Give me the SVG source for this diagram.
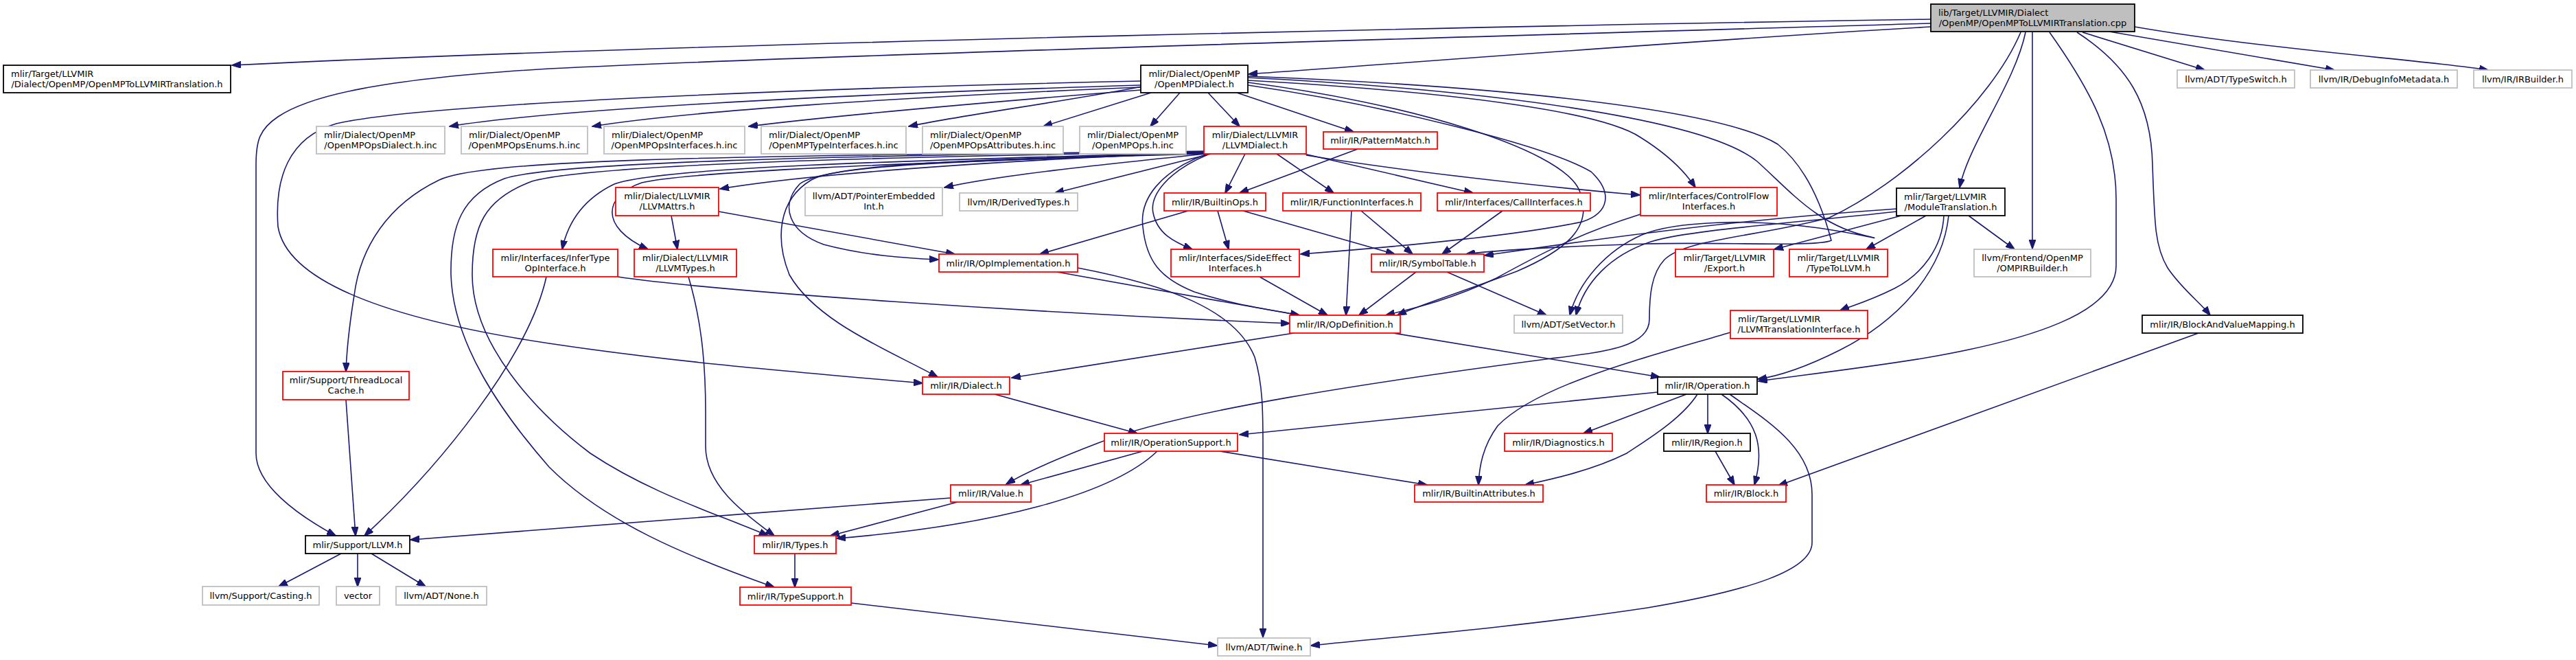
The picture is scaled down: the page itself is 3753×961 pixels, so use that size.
<svg xmlns="http://www.w3.org/2000/svg" width="3753" height="961" viewBox="0 0 3753 961">
<style>
rect{fill:#fff;stroke-width:1.8}
.r{stroke:#ff0000}.g{stroke:#bfbfbf}.k{stroke:#000}.root{fill:#bfbfbf;stroke:#000}
text{font-family:"DejaVu Sans","Liberation Sans",sans-serif;font-size:13px;fill:#000}
.m{text-anchor:middle}
#edges path{fill:none;stroke:#191970;stroke-width:1.6;marker-end:url(#a)}
</style>
<defs>
<marker id="a" viewBox="0 0 14 10" refX="13" refY="5" markerWidth="14" markerHeight="10" markerUnits="userSpaceOnUse" orient="auto"><path d="M0,0 L14,5 L0,10 z" fill="#191970" stroke="#191970" stroke-width="1"/></marker>
</defs>
<rect x="0" y="0" width="3753" height="961" style="fill:#fff;stroke:none"/>
<g id="edges">
<path d="M2813,28 C2300,36 1000,62 338,95"/>
<path d="M2813,34 C2200,52 1200,80 800,100 C550,115 450,140 405,170 C378,188 373,205 373,240 L373,660 C373,705 430,748 489,780"/>
<path d="M2813,39 C2450,60 2100,88 1819,108"/>
<path d="M2951,47 C2936,120 2868,210 2855,273"/>
<path d="M2944,47 C2900,150 2770,268 2665,317 C2560,345 2455,348 2425,378 C2406,398 2403,430 2403,465 C2403,505 2340,512 2260,522 C2000,556 1720,598 1600,645 C1540,668 1490,690 1466,705"/>
<path d="M2961,47 L2961,362"/>
<path d="M2986,47 C3045,130 3083,200 3083,290 L3083,387 C3083,455 2960,495 2800,522 C2700,538 2610,548 2562,555"/>
<path d="M3026,47 C3100,95 3134,150 3136,240 C3139,330 3140,360 3158,390 C3178,420 3205,440 3220,459"/>
<path d="M3034,47 L3212,102"/>
<path d="M3073,46 L3401,102"/>
<path d="M3110,39 C3300,72 3540,88 3625,102"/>
<path d="M1662,124 C1200,138 800,160 655,184"/>
<path d="M1662,127 C1300,142 1000,162 863,184"/>
<path d="M1662,131 C1450,148 1200,170 1091,184"/>
<path d="M1664,126 C1550,148 1400,168 1324,184"/>
<path d="M1677,135 L1520,184"/>
<path d="M1719,135 L1676,184"/>
<path d="M1760,135 L1806,184"/>
<path d="M1802,135 L1972,192"/>
<path d="M1662,118 C1200,128 620,150 490,180 C420,200 400,260 405,330 C420,420 600,470 800,500 C1000,530 1200,545 1344,558"/>
<path d="M1818,117 C2100,133 2330,160 2390,200 C2430,225 2455,250 2470,273"/>
<path d="M1818,124 C2000,150 2250,210 2318,250 C2350,280 2345,310 2305,323 C2200,345 2000,362 1895,370"/>
<path d="M1818,111 C2150,124 2500,155 2590,210 C2640,250 2660,320 2668,350 C2650,360 2500,352 2400,355 C2300,358 2200,362 2136,370"/>
<path d="M1818,120 C2050,150 2270,215 2300,275 C2325,330 2280,365 2210,395 C2130,425 2065,445 2036,459"/>
<path d="M1818,113 C2150,130 2480,170 2560,235 C2610,280 2650,330 2726,345 C2745,350 2705,340 2650,332 C2550,318 2440,322 2392,342 C2340,365 2300,410 2287,459"/>
<path d="M1754,222 C1500,232 1200,250 1049,275"/>
<path d="M1757,224 C1600,240 1450,256 1376,273"/>
<path d="M1764,224 L1537,281"/>
<path d="M1814,224 L1785,281"/>
<path d="M1860,224 L1943,281"/>
<path d="M1900,224 L2146,281"/>
<path d="M1903,226 C2050,250 2250,272 2389,284"/>
<path d="M1755,222 C1300,234 960,244 895,268 C845,292 826,330 819,363"/>
<path d="M1755,223 C1300,238 1000,250 935,266 C880,285 872,330 944,363"/>
<path d="M1755,224 C1400,234 1200,240 1165,268 C1135,300 1150,338 1200,356 C1260,372 1320,376 1367,378"/>
<path d="M1755,221 C1000,226 700,234 640,262 C565,298 525,360 516,430 C508,480 505,510 504,541"/>
<path d="M1755,220 C1200,227 810,236 735,260 C672,284 656,330 657,400 C660,500 730,600 800,680 C880,760 1000,810 1128,855"/>
<path d="M1755,221 C1250,229 860,240 775,264 C705,290 688,330 688,400 C688,500 780,600 860,660 C950,720 1050,750 1119,780"/>
<path d="M1755,223 C1400,232 1220,240 1182,262 C1132,292 1130,350 1150,400 C1190,470 1300,512 1366,549"/>
<path d="M1756,225 C1690,250 1660,290 1665,330 C1670,380 1690,405 1740,425 C1800,445 1860,452 1893,459"/>
<path d="M1760,225 C1700,250 1675,285 1680,310 C1686,340 1710,352 1737,363"/>
<path d="M1978,217 L1806,281"/>
<path d="M978,314 L987,363"/>
<path d="M1047,308 L1391,370"/>
<path d="M1731,307 L1515,370"/>
<path d="M1774,307 L1790,363"/>
<path d="M1811,307 L2032,370"/>
<path d="M1969,307 L1961,459"/>
<path d="M1983,307 L2058,370"/>
<path d="M2189,307 L2101,370"/>
<path d="M2390,312 C2300,340 2240,372 2180,405 C2110,438 2055,450 2019,459"/>
<path d="M2764,304 C2500,322 2300,352 2163,372"/>
<path d="M2770,314 L2585,363"/>
<path d="M2806,314 L2719,363"/>
<path d="M2832,314 C2830,360 2800,400 2760,420 C2720,440 2695,446 2681,452"/>
<path d="M2839,314 C2830,400 2760,470 2680,510 C2630,535 2590,548 2561,552"/>
<path d="M2868,314 L2935,363"/>
<path d="M2764,308 C2600,326 2460,335 2405,352 C2345,372 2308,412 2296,459"/>
<path d="M900,403 C1050,425 1500,455 1879,471"/>
<path d="M796,403 C770,520 640,680 531,780"/>
<path d="M1003,403 C1020,460 1028,520 1028,600 L1028,650 C1028,705 1080,745 1128,780"/>
<path d="M1540,396 L1893,459"/>
<path d="M1570,390 C1700,415 1800,450 1828,520 C1840,560 1840,600 1840,650 L1840,928"/>
<path d="M1835,403 L1934,459"/>
<path d="M2063,396 L1980,459"/>
<path d="M2108,396 L2253,459"/>
<path d="M504,582 L518,780"/>
<path d="M1885,485 L1474,550"/>
<path d="M2030,485 L2418,549"/>
<path d="M2521,484 C2400,520 2240,560 2182,620 C2160,650 2155,680 2154,706"/>
<path d="M3203,485 L2591,707"/>
<path d="M1449,574 L1657,631"/>
<path d="M2415,571 L1806,633"/>
<path d="M2457,574 L2307,631"/>
<path d="M2488,574 L2488,631"/>
<path d="M2473,574 C2450,610 2400,640 2370,660 C2320,685 2260,698 2222,706"/>
<path d="M2508,574 C2560,610 2572,650 2556,706"/>
<path d="M2520,574 C2570,610 2640,650 2640,720 L2640,790 C2640,830 2550,860 2400,885 C2200,915 2000,930 1910,940"/>
<path d="M1665,657 L1487,706"/>
<path d="M1777,657 L2079,706"/>
<path d="M1686,657 C1620,720 1450,765 1219,784"/>
<path d="M2499,657 L2527,706"/>
<path d="M1385,725 L598,786"/>
<path d="M1395,731 L1210,780"/>
<path d="M497,806 L406,854"/>
<path d="M521,806 L521,854"/>
<path d="M541,806 L620,854"/>
<path d="M1158,806 L1158,855"/>
<path d="M1240,878 L1773,940"/>
</g>
<g id="n0"><rect class="root" x="2813" y="6" width="297" height="40"/><text x="2824" y="23">lib/Target/LLVMIR/Dialect</text><text class="m" x="2961.5" y="38">/OpenMP/OpenMPToLLVMIRTranslation.cpp</text></g>
<g id="n1"><rect class="k" x="5" y="95" width="331" height="40"/><text x="16" y="112">mlir/Target/LLVMIR</text><text class="m" x="170.5" y="127">/Dialect/OpenMP/OpenMPToLLVMIRTranslation.h</text></g>
<g id="n2"><rect class="k" x="1662" y="95" width="156" height="40"/><text class="m" x="1740" y="112">mlir/Dialect/OpenMP</text><text class="m" x="1740" y="127">/OpenMPDialect.h</text></g>
<g id="n3"><rect class="g" x="461" y="184" width="187" height="40"/><text x="472" y="201">mlir/Dialect/OpenMP</text><text class="m" x="554.5" y="216">/OpenMPOpsDialect.h.inc</text></g>
<g id="n4"><rect class="g" x="672" y="184" width="184" height="40"/><text x="683" y="201">mlir/Dialect/OpenMP</text><text class="m" x="764" y="216">/OpenMPOpsEnums.h.inc</text></g>
<g id="n5"><rect class="g" x="880" y="184" width="205" height="40"/><text x="891" y="201">mlir/Dialect/OpenMP</text><text class="m" x="982.5" y="216">/OpenMPOpsInterfaces.h.inc</text></g>
<g id="n6"><rect class="g" x="1109" y="184" width="211" height="40"/><text x="1120" y="201">mlir/Dialect/OpenMP</text><text class="m" x="1214.5" y="216">/OpenMPTypeInterfaces.h.inc</text></g>
<g id="n7"><rect class="g" x="1344" y="184" width="205" height="40"/><text x="1355" y="201">mlir/Dialect/OpenMP</text><text class="m" x="1446.5" y="216">/OpenMPOpsAttributes.h.inc</text></g>
<g id="n8"><rect class="g" x="1573" y="184" width="155" height="40"/><text class="m" x="1650.5" y="201">mlir/Dialect/OpenMP</text><text class="m" x="1650.5" y="216">/OpenMPOps.h.inc</text></g>
<g id="n9"><rect class="r" x="1754" y="184" width="149" height="40"/><text class="m" x="1828.5" y="201">mlir/Dialect/LLVMIR</text><text class="m" x="1828.5" y="216">/LLVMDialect.h</text></g>
<g id="n10"><rect class="r" x="1928" y="192" width="166" height="25"/><text class="m" x="2011" y="209">mlir/IR/PatternMatch.h</text></g>
<g id="n11"><rect class="r" x="897" y="273" width="150" height="41"/><text class="m" x="972" y="290">mlir/Dialect/LLVMIR</text><text class="m" x="972" y="305">/LLVMAttrs.h</text></g>
<g id="n12"><rect class="g" x="1173" y="273" width="200" height="41"/><text class="m" x="1273" y="290">llvm/ADT/PointerEmbedded</text><text class="m" x="1273" y="305">Int.h</text></g>
<g id="n13"><rect class="g" x="1398" y="281" width="172" height="26"/><text class="m" x="1484" y="298.5">llvm/IR/DerivedTypes.h</text></g>
<g id="n14"><rect class="r" x="1696" y="281" width="148" height="26"/><text class="m" x="1770" y="298.5">mlir/IR/BuiltinOps.h</text></g>
<g id="n15"><rect class="r" x="1869" y="281" width="201" height="26"/><text class="m" x="1969.5" y="298.5">mlir/IR/FunctionInterfaces.h</text></g>
<g id="n16"><rect class="r" x="2094" y="281" width="223" height="26"/><text class="m" x="2205.5" y="298.5">mlir/Interfaces/CallInterfaces.h</text></g>
<g id="n17"><rect class="r" x="2390" y="273" width="199" height="41"/><text class="m" x="2489.5" y="290">mlir/Interfaces/ControlFlow</text><text class="m" x="2489.5" y="305">Interfaces.h</text></g>
<g id="n18"><rect class="k" x="2763" y="274" width="158" height="40"/><text x="2774" y="291">mlir/Target/LLVMIR</text><text class="m" x="2842" y="306">/ModuleTranslation.h</text></g>
<g id="n19"><rect class="g" x="3172" y="102" width="171" height="26"/><text class="m" x="3257.5" y="119.5">llvm/ADT/TypeSwitch.h</text></g>
<g id="n20"><rect class="g" x="3366" y="102" width="214" height="26"/><text class="m" x="3473" y="119.5">llvm/IR/DebugInfoMetadata.h</text></g>
<g id="n21"><rect class="g" x="3604" y="102" width="143" height="26"/><text class="m" x="3675.5" y="119.5">llvm/IR/IRBuilder.h</text></g>
<g id="n22"><rect class="r" x="718" y="363" width="182" height="40"/><text class="m" x="809" y="380">mlir/Interfaces/InferType</text><text class="m" x="809" y="395">OpInterface.h</text></g>
<g id="n23"><rect class="r" x="924" y="363" width="149" height="40"/><text class="m" x="998.5" y="380">mlir/Dialect/LLVMIR</text><text class="m" x="998.5" y="395">/LLVMTypes.h</text></g>
<g id="n24"><rect class="r" x="1368" y="370" width="202" height="26"/><text class="m" x="1469" y="387.5">mlir/IR/OpImplementation.h</text></g>
<g id="n25"><rect class="r" x="1706" y="363" width="187" height="40"/><text class="m" x="1799.5" y="380">mlir/Interfaces/SideEffect</text><text class="m" x="1799.5" y="395">Interfaces.h</text></g>
<g id="n26"><rect class="r" x="1998" y="370" width="164" height="26"/><text class="m" x="2080" y="387.5">mlir/IR/SymbolTable.h</text></g>
<g id="n27"><rect class="r" x="2441" y="363" width="143" height="40"/><text class="m" x="2512.5" y="380">mlir/Target/LLVMIR</text><text class="m" x="2512.5" y="395">/Export.h</text></g>
<g id="n28"><rect class="r" x="2607" y="363" width="143" height="40"/><text class="m" x="2678.5" y="380">mlir/Target/LLVMIR</text><text class="m" x="2678.5" y="395">/TypeToLLVM.h</text></g>
<g id="n29"><rect class="g" x="2876" y="363" width="170" height="40"/><text class="m" x="2961" y="380">llvm/Frontend/OpenMP</text><text class="m" x="2961" y="395">/OMPIRBuilder.h</text></g>
<g id="n30"><rect class="r" x="412" y="541" width="184" height="41"/><text class="m" x="504" y="558">mlir/Support/ThreadLocal</text><text class="m" x="504" y="573">Cache.h</text></g>
<g id="n31"><rect class="r" x="1879" y="459" width="161" height="26"/><text class="m" x="1959.5" y="476.5">mlir/IR/OpDefinition.h</text></g>
<g id="n32"><rect class="g" x="2206" y="459" width="158" height="26"/><text class="m" x="2285" y="476.5">llvm/ADT/SetVector.h</text></g>
<g id="n33"><rect class="r" x="2521" y="452" width="200" height="41"/><text x="2532" y="469">mlir/Target/LLVMIR</text><text class="m" x="2621" y="484">/LLVMTranslationInterface.h</text></g>
<g id="n34"><rect class="k" x="3121" y="459" width="234" height="26"/><text class="m" x="3238" y="476.5">mlir/IR/BlockAndValueMapping.h</text></g>
<g id="n35"><rect class="r" x="1344" y="549" width="127" height="25"/><text class="m" x="1407.5" y="566">mlir/IR/Dialect.h</text></g>
<g id="n36"><rect class="k" x="2415" y="549" width="145" height="25"/><text class="m" x="2487.5" y="566">mlir/IR/Operation.h</text></g>
<g id="n37"><rect class="r" x="1609" y="631" width="194" height="26"/><text class="m" x="1706" y="648.5">mlir/IR/OperationSupport.h</text></g>
<g id="n38"><rect class="r" x="2192" y="631" width="157" height="26"/><text class="m" x="2270.5" y="648.5">mlir/IR/Diagnostics.h</text></g>
<g id="n39"><rect class="k" x="2424" y="631" width="126" height="26"/><text class="m" x="2487" y="648.5">mlir/IR/Region.h</text></g>
<g id="n40"><rect class="r" x="1385" y="706" width="117" height="25"/><text class="m" x="1443.5" y="723">mlir/IR/Value.h</text></g>
<g id="n41"><rect class="r" x="2061" y="706" width="187" height="25"/><text class="m" x="2154.5" y="723">mlir/IR/BuiltinAttributes.h</text></g>
<g id="n42"><rect class="r" x="2486" y="706" width="116" height="25"/><text class="m" x="2544" y="723">mlir/IR/Block.h</text></g>
<g id="n43"><rect class="k" x="445" y="780" width="152" height="26"/><text class="m" x="521" y="797.5">mlir/Support/LLVM.h</text></g>
<g id="n44"><rect class="r" x="1099" y="780" width="119" height="26"/><text class="m" x="1158.5" y="797.5">mlir/IR/Types.h</text></g>
<g id="n45"><rect class="g" x="295" y="854" width="170" height="27"/><text class="m" x="380" y="872">llvm/Support/Casting.h</text></g>
<g id="n46"><rect class="g" x="490" y="854" width="63" height="27"/><text class="m" x="521.5" y="872">vector</text></g>
<g id="n47"><rect class="g" x="577" y="854" width="132" height="27"/><text class="m" x="643" y="872">llvm/ADT/None.h</text></g>
<g id="n48"><rect class="r" x="1078" y="855" width="162" height="26"/><text class="m" x="1159" y="872.5">mlir/IR/TypeSupport.h</text></g>
<g id="n49"><rect class="g" x="1774" y="929" width="135" height="26"/><text class="m" x="1841.5" y="946.5">llvm/ADT/Twine.h</text></g>
</svg>
